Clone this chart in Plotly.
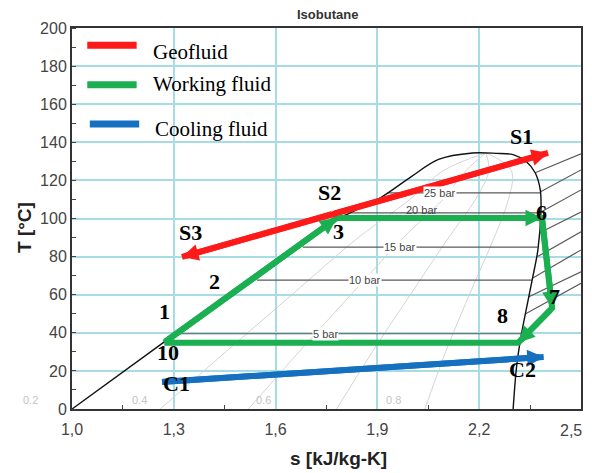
import plotly.graph_objects as go

# ---------------- data ----------------
# saturation dome (isobutane), digitised
dome_s = [1.0, 1.27, 1.52, 1.78, 1.82, 1.91, 2.0, 2.08, 2.18, 2.25, 2.30, 2.34, 2.365, 2.38, 2.382, 2.373, 2.356, 2.34, 2.323, 2.31, 2.30]
dome_T = [0, 35, 66.6, 99.5, 103, 111, 122, 131, 134.4, 134.2, 133.5, 129.7, 124, 115, 104, 83.5, 67.7, 53.5, 37.8, 22, 0]

# isobars inside the dome
isobar_labels = ["25 bar", "20 bar", "15 bar", "10 bar", "5 bar"]
isobar_T = [113.5, 103, 85, 67.7, 39.5]
isobar_s_left = [1.93, 1.82, 1.68, 1.545, 1.30]
isobar_s_right = [2.381, 2.382, 2.372, 2.356, 2.325]
isobar_label_s = [2.085, 2.03, 1.967, 1.864, 1.746]

# isobars in the superheated region (start on vapour line, end at right edge)
sh_s_start = [2.365, 2.381, 2.382, 2.377, 2.372, 2.358, 2.345, 2.337]
sh_T_start = [124, 114, 103.4, 92.4, 80, 68.8, 58.8, 50]
sh_s_end = [2.5, 2.5, 2.5, 2.5, 2.5, 2.5, 2.5, 2.5]
sh_T_end = [134, 125.5, 115, 103.4, 93, 83.5, 72, 66]

# constant-quality lines
qual_T = [0, 30, 60, 90, 110, 125, 134.5]
qual_02 = [1.26, 1.453, 1.648, 1.844, 1.996, 2.093, 2.22]
qual_04 = [1.52, 1.669, 1.822, 1.977, 2.093, 2.160, 2.22]
qual_06 = [1.78, 1.885, 1.997, 2.110, 2.189, 2.228, 2.22]
qual_08 = [2.04, 2.101, 2.171, 2.244, 2.286, 2.295, 2.22]
qual_label_text = ["0.2", "0.4", "0.6", "0.8"]
qual_label_s = [0.85, 1.171, 1.563, 1.946]
qual_label_T = [4.7, 4.7, 4.7, 4.7]

# process lines
geo_s = [1.324, 1.77, 2.403]          # S3, S2, S1
geo_T = [79.8, 102.5, 134.4]
wf_s = [1.272, 1.78, 2.385, 2.415, 2.315, 1.272]   # 1, 3, 6, 7, 8, 10
wf_T = [35, 100.2, 100.2, 53, 34.8, 34.8]
cool_s = [1.265, 2.39]                 # C1, C2
cool_T = [14.2, 27.3]

# state point labels
pt_labels = ["S1", "S2", "S3", "1", "2", "3", "6", "7", "8", "10", "C1", "C2"]
pt_label_s = [2.325, 1.76, 1.348, 1.274, 1.421, 1.784, 2.385, 2.423, 2.27, 1.283, 1.309, 2.329]
pt_label_T = [142.8, 113.4, 92.4, 51, 66.7, 93, 103, 58.8, 49.3, 29.9, 13.6, 20.5]

# axes ticks
x_tickvals = [1.0, 1.3, 1.6, 1.9, 2.2, 2.5]
x_ticktext = ["1,0", "1,3", "1,6", "1,9", "2,2", "2,5"]
y_tickvals = [0, 20, 40, 60, 80, 100, 120, 140, 160, 180, 200]

legend_names = ["Geofluid", "Working fluid", "Cooling fluid"]

# ---------------- styles ----------------
RED = "#ff1a1a"
GREEN = "#1aaf50"
BLUE = "#1670c0"
GRID = "#a6dde5"
SERIF = "Liberation Serif"
SANS = "Liberation Sans"
X0, X1 = 1.0, 2.5

fig = go.Figure()

# quality lines
for qs in [qual_02, qual_04, qual_06, qual_08]:
    fig.add_trace(go.Scatter(x=qs, y=qual_T, mode="lines", line=dict(color="#cfcfcf", width=0.9, shape="spline"),
                             hoverinfo="skip", showlegend=False))

# isobars in dome
for i in range(len(isobar_T)):
    fig.add_trace(go.Scatter(x=[isobar_s_left[i], isobar_s_right[i]], y=[isobar_T[i], isobar_T[i]], mode="lines",
                             line=dict(color="#5a5a5a", width=1.2), hoverinfo="skip", showlegend=False))
# superheated isobars
for i in range(len(sh_T_start)):
    fig.add_trace(go.Scatter(x=[sh_s_start[i], sh_s_end[i]], y=[sh_T_start[i], sh_T_end[i]], mode="lines",
                             line=dict(color="#5a5a5a", width=1.2), hoverinfo="skip", showlegend=False))

# dome
fig.add_trace(go.Scatter(x=dome_s, y=dome_T, mode="lines", line=dict(color="#111111", width=1.4, shape="spline", smoothing=0.9),
                         hoverinfo="skip", showlegend=False))

# process lines
fig.add_trace(go.Scatter(x=cool_s, y=cool_T, mode="lines", name=legend_names[2], line=dict(color=BLUE, width=6), showlegend=False))
fig.add_trace(go.Scatter(x=wf_s, y=wf_T, mode="lines", name=legend_names[1], line=dict(color=GREEN, width=6), showlegend=False))
fig.add_trace(go.Scatter(x=geo_s, y=geo_T, mode="lines", name=legend_names[0], line=dict(color=RED, width=6), showlegend=False))

annotations = []

def arrow(xs, ys, i_tail, i_head, color):
    annotations.append(dict(x=xs[i_head], y=ys[i_head], ax=xs[i_tail], ay=ys[i_tail], xref="x", yref="y",
                            axref="x", ayref="y", text="", showarrow=True, arrowhead=2, arrowsize=0.55,
                            arrowwidth=6, arrowcolor=color, standoff=0))

arrow(geo_s, geo_T, 1, 0, RED)
arrow(geo_s, geo_T, 1, 2, RED)
for k in range(1, 5):
    arrow(wf_s, wf_T, k - 1, k, GREEN)
arrow(cool_s, cool_T, 0, 1, BLUE)

# isobar labels
for i in range(len(isobar_T)):
    annotations.append(dict(x=isobar_label_s[i], y=isobar_T[i], xref="x", yref="y", text=isobar_labels[i],
                            showarrow=False, font=dict(family=SANS, size=11, color="#444444"),
                            bgcolor="white" if i != 1 else "rgba(0,0,0,0)", borderpad=0,
                            yshift=(3 if i == 1 else 0)))

# quality labels (the first lies left of the axis, so place in paper units derived from s)
for i in range(len(qual_label_text)):
    annotations.append(dict(x=(qual_label_s[i] - X0) / (X1 - X0), y=qual_label_T[i], xref="paper", yref="y",
                            text=qual_label_text[i], showarrow=False,
                            font=dict(family=SANS, size=11, color="#c4c4c4")))

# point labels
for i in range(len(pt_labels)):
    annotations.append(dict(x=pt_label_s[i], y=pt_label_T[i], xref="x", yref="y", text="<b>%s</b>" % pt_labels[i],
                            showarrow=False, font=dict(family=SERIF, size=22, color="black")))

# legend (drawn manually)
leg_colors = [RED, GREEN, BLUE]
leg_y = [0.955, 0.851, 0.748]
leg_x0 = [0.030, 0.030, 0.035]
leg_text_y = [0.937, 0.852, 0.734]
shapes = []
for i in range(3):
    shapes.append(dict(type="line", xref="paper", yref="paper", x0=leg_x0[i], x1=leg_x0[i] + 0.097,
                       y0=leg_y[i], y1=leg_y[i], line=dict(color=leg_colors[i], width=7)))
    annotations.append(dict(x=leg_x0[i] + 0.125, y=leg_text_y[i], xref="paper", yref="paper", xanchor="left",
                            yanchor="middle", text=legend_names[i], showarrow=False,
                            font=dict(family=SERIF, size=21, color="black")))

# last x tick label sits at the right page edge: drawn right-anchored so it is not cut off
annotations.append(dict(x=X1, y=0, xref="x", yref="y", text=x_ticktext[-1], showarrow=False,
                        xanchor="right", yanchor="top", xshift=3, yshift=-11,
                        font=dict(family=SANS, size=16, color="#444444")))

# title and axis titles
annotations.append(dict(x=(327.5 - 72) / 509, y=(409 - 15) / 381, xref="paper", yref="paper", text="<b>Isobutane</b>",
                        showarrow=False, font=dict(family=SANS, size=13, color="#333333"), yanchor="middle"))
annotations.append(dict(x=(338 - 72) / 509, y=(409 - 459) / 381, xref="paper", yref="paper", text="<b>s [kJ/kg-K]</b>",
                        showarrow=False, font=dict(family=SANS, size=19, color="#222222"), yanchor="middle"))
annotations.append(dict(x=(24 - 72) / 509, y=(409 - 228) / 381, xref="paper", yref="paper", text="<b>T [°C]</b>",
                        showarrow=False, textangle=-90, font=dict(family=SANS, size=19, color="#222222"),
                        xanchor="center", yanchor="middle"))

# the page body has an 8px margin, so the figure is made 8px smaller and its margins shifted
fig.update_layout(
    width=584, height=465,
    margin=dict(l=64, r=11, t=20, b=64, autoexpand=False),
    paper_bgcolor="white", plot_bgcolor="white",
    annotations=annotations, shapes=shapes,
    showlegend=False,
)
fig.update_xaxes(range=[X0, X1], tickvals=x_tickvals[:-1], ticktext=x_ticktext[:-1], showgrid=True, gridcolor=GRID, gridwidth=1.6,
                 showline=True, linecolor="#333333", linewidth=2, mirror=True, ticks="", zeroline=False, automargin=False,
                 ticklabeloverflow="allow", ticklabelstandoff=5,
                 tickfont=dict(family=SANS, size=16, color="#444444"),
                 minor=dict(tickvals=[1.15, 1.45, 1.75, 2.05, 2.35], ticks="inside", ticklen=4, tickcolor="#444444", showgrid=False))
fig.update_yaxes(range=[0, 200], tickvals=y_tickvals, showgrid=True, gridcolor=GRID, gridwidth=1.6,
                 showline=True, linecolor="#333333", linewidth=2, mirror=True, ticks="", zeroline=False, automargin=False,
                 ticklabeloverflow="allow",
                 tickfont=dict(family=SANS, size=16, color="#444444"),
                 minor=dict(dtick=10, ticks="inside", ticklen=4, tickcolor="#444444", showgrid=False))

fig.write_html("out.html")
